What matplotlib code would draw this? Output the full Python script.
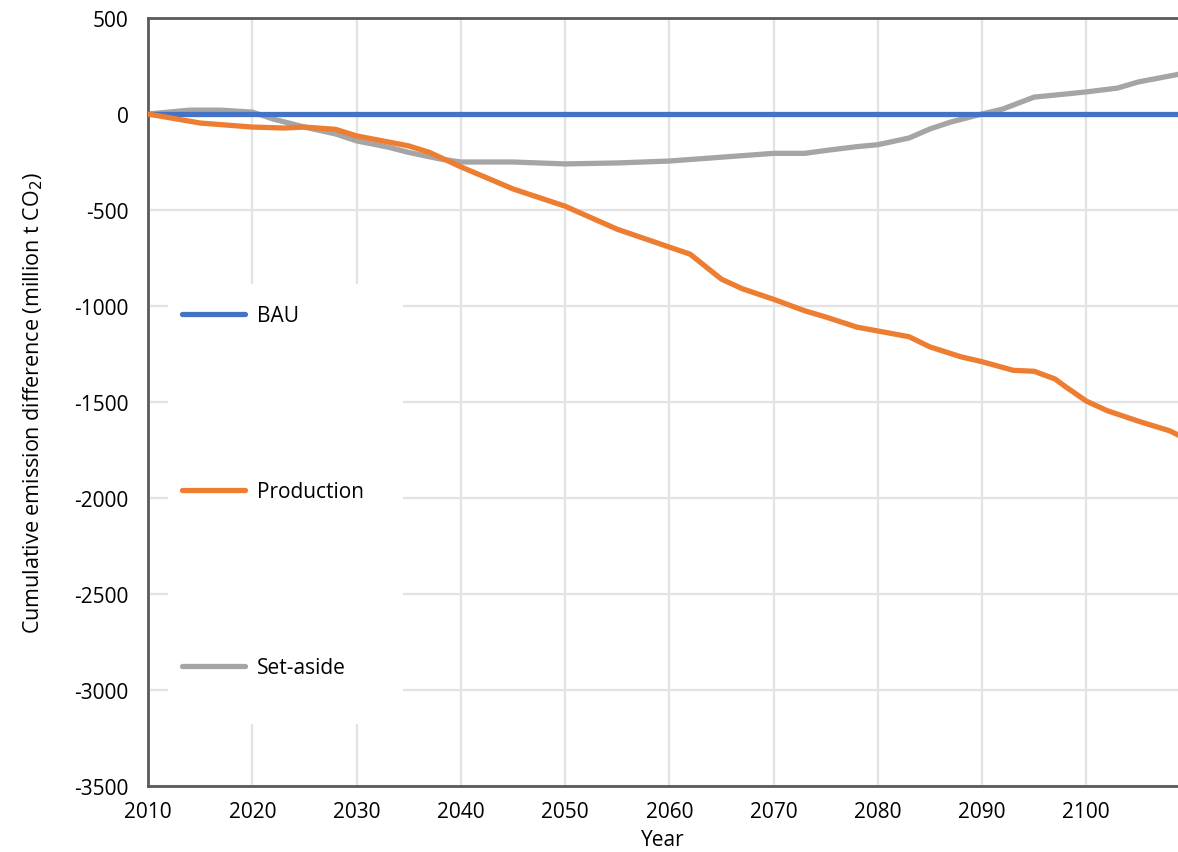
import numpy as np
import matplotlib
matplotlib.use('Agg')
import matplotlib.pyplot as plt
from matplotlib.patches import Rectangle

plt.rcParams['font.family'] = ['Open Sans', 'DejaVu Sans']
plt.rcParams['axes.unicode_minus'] = False

# данные
years_bau = [2010, 2109]
bau = [0, 0]

years_prod = [2010, 2015, 2020, 2023, 2025, 2028, 2030, 2035, 2037, 2040, 2045, 2050,
              2055, 2060, 2062, 2065, 2067, 2070, 2073, 2075, 2078, 2080, 2083, 2085,
              2088, 2090, 2093, 2095, 2097, 2098, 2100, 2102, 2105, 2108, 2109]
production = [0, -47, -68, -73, -68, -80, -114, -166, -200, -275, -390, -480,
              -600, -693, -730, -860, -910, -965, -1025, -1057, -1110, -1130, -1160, -1213,
              -1265, -1290, -1335, -1340, -1380, -1420, -1495, -1545, -1600, -1650, -1677]

years_set = [2010, 2012, 2014, 2017, 2020, 2022, 2025, 2028, 2030, 2033, 2035, 2038, 2040,
             2045, 2050, 2055, 2060, 2065, 2070, 2073, 2075, 2078, 2080, 2083, 2085, 2087,
             2090, 2092, 2095, 2098, 2100, 2103, 2105, 2108, 2109]
set_aside = [0, 10, 20, 20, 10, -26, -68, -104, -140, -172, -200, -234, -250,
             -250, -260, -255, -245, -225, -205, -205, -190, -170, -160, -125, -78, -42,
             0, 26, 88, 104, 115, 135, 167, 198, 208]

x_ticks = list(range(2010, 2101, 10))
y_ticks = list(range(-3500, 501, 500))

fig = plt.figure(figsize=(11.78, 8.53), dpi=100)
ax = fig.add_axes([148/1178, 1-787/853, 1030/1178, 768/853])

ax.plot(years_bau, bau, color='#4472C4', lw=3.8, label='BAU', zorder=3, solid_capstyle='round')
ax.plot(years_prod, production, color='#ED7D31', lw=3.8, label='Production', zorder=3, solid_capstyle='round')
ax.plot(years_set, set_aside, color='#A5A5A5', lw=3.8, label='Set-aside', zorder=2, solid_capstyle='round')

ax.set_xlim(2010, 2108.8)
ax.set_ylim(-3500, 500)
ax.set_xticks(x_ticks)
ax.set_yticks(y_ticks)
ax.grid(True, color='#e3e3e3', lw=1.6, zorder=0)
ax.set_axisbelow(True)
ax.tick_params(length=0, labelsize=15)
ax.tick_params(axis='y', pad=14)
ax.tick_params(axis='x', pad=11)

for s in ['left', 'top', 'bottom']:
    ax.spines[s].set_color('#5a5a5a')
    ax.spines[s].set_linewidth(2)
ax.spines['right'].set_visible(False)

# белый прямоугольник под легендой
ax.add_patch(Rectangle((20/1030, 62/768), 235/1030, 440/768, transform=ax.transAxes,
                       facecolor='white', edgecolor='none', zorder=1))

leg = ax.legend(loc='upper left', bbox_to_anchor=(34/1030, 1-(318-19-12)/768),
                frameon=False, fontsize=15, handlelength=3.0, handletextpad=0.6,
                labelspacing=7.45, borderpad=0, borderaxespad=0)
for h in leg.get_lines():
    h.set_linewidth(3.8)

ax.set_xlabel('Year', fontsize=15, labelpad=5)
ax.set_ylabel('Cumulative emission difference (million t CO$_2$)', fontsize=15.5, labelpad=21)

fig.savefig('out.png', dpi=100)
